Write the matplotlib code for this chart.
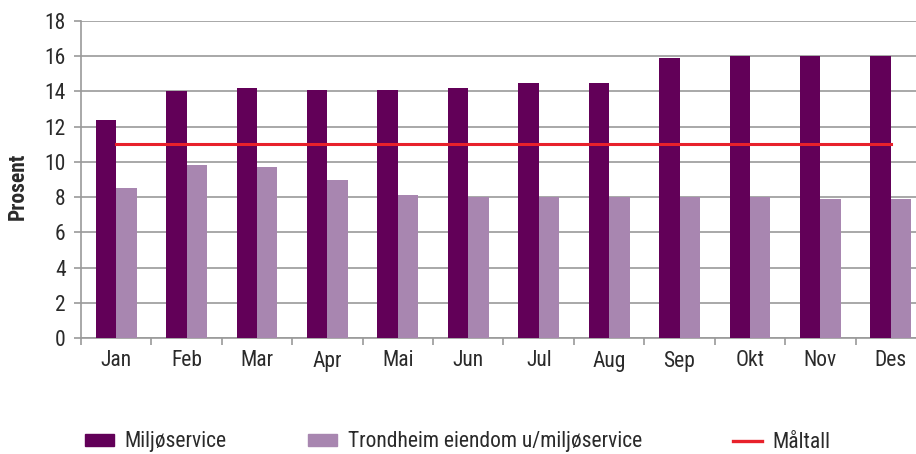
import matplotlib
matplotlib.use("Agg")
import matplotlib.pyplot as plt
import numpy as np
from matplotlib.patches import Patch
from matplotlib.lines import Line2D
from matplotlib import font_manager as fm

months = ["Jan", "Feb", "Mar", "Apr", "Mai", "Jun", "Jul", "Aug", "Sep", "Okt", "Nov", "Des"]
miljoservice = [12.4, 14.0, 14.2, 14.1, 14.1, 14.2, 14.5, 14.5, 15.9, 16.0, 16.0, 16.0]
trondheim = [8.5, 9.8, 9.7, 9.0, 8.1, 8.0, 8.0, 8.0, 8.0, 8.0, 7.9, 7.9]
maltall = [11] * 12
yticks = [0, 2, 4, 6, 8, 10, 12, 14, 16, 18]

c_dark = "#620058"
c_light = "#A886B0"
c_red = "#E8212B"
grid_c = "#9A9A9A"
txt_c = "#2a2a2a"


def find_font(bold=False):
    pref = ["Liberation Sans Narrow", "Roboto Condensed", "Open Sans Condensed",
            "Noto Sans", "DejaVu Sans", "Roboto", "Open Sans"]
    found = []
    for f in fm.fontManager.ttflist:
        fn = f.fname.lower()
        if not ("condensed" in fn or "narrow" in fn):
            continue
        if "italic" in fn or "oblique" in fn:
            continue
        isbold = "bold" in fn and "semibold" not in fn and "extrabold" not in fn
        if bold != isbold:
            continue
        if not bold and any(w in fn for w in ["light", "thin", "medium", "semi", "black", "extra"]):
            continue
        rank = pref.index(f.name) if f.name in pref else len(pref)
        found.append((rank, f.fname))
    if found:
        found.sort()
        return fm.FontProperties(fname=found[0][1])
    return fm.FontProperties(family="DejaVu Sans", weight="bold" if bold else "normal")


fp = find_font(False)
fpb = find_font(True)


def fprop(size, bold=False):
    p = (fpb if bold else fp).copy()
    p.set_size(size)
    return p


FS = 15.5
W, H = 916, 454
fig = plt.figure(figsize=(W / 100, H / 100), dpi=100)
left, right, top, bottom = 81, 926, 21, 338
ax = fig.add_axes([left / W, (H - bottom) / H, (right - left) / W, (bottom - top) / H])

x = np.arange(len(months))
bw = 0.29
ax.bar(x - bw / 2, miljoservice, width=bw, color=c_dark, zorder=3)
ax.bar(x + bw / 2, trondheim, width=bw, color=c_light, zorder=3)
ax.plot(x, maltall, color=c_red, lw=2.2, zorder=4)

ax.set_xlim(-0.5, 11.5)
ax.set_ylim(0, 18)
ax.set_yticks(yticks)
ax.set_yticklabels([str(t) for t in yticks], fontproperties=fprop(FS), color=txt_c)
ax.set_xticks(x)
ax.set_xticklabels(months, fontproperties=fprop(FS), color=txt_c)
ax.set_xticks(np.arange(-0.5, 12, 1), minor=True)
ax.tick_params(axis='x', which='major', length=0, pad=9)
ax.tick_params(axis='x', which='minor', length=5, color=grid_c, width=1.2)
ax.tick_params(axis='y', length=5, color=grid_c, width=1.2, pad=6)
ax.yaxis.grid(True, color=grid_c, lw=1.2, zorder=0)
ax.set_axisbelow(True)
for s in ["top", "right"]:
    ax.spines[s].set_visible(False)
for s in ["left", "bottom"]:
    ax.spines[s].set_color(grid_c)
    ax.spines[s].set_linewidth(1.2)

fig.text(18 / W, (H - 186) / H, "Prosent", rotation=90, fontproperties=fprop(15.5, True),
         ha="center", va="center", color=txt_c)

legend_items = [
    (Patch(color=c_dark), "Miljøservice", 85),
    (Patch(color=c_light), "Trondheim eiendom u/miljøservice", 308),
    (Line2D([0], [0], color=c_red, lw=2.4), "Måltall", 733),
]
for h, lab, px in legend_items:
    fig.legend([h], [lab], loc="center left", bbox_to_anchor=(px / W, (H - 442) / H),
               frameon=False, prop=fprop(FS), handlelength=1.35, handleheight=0.5,
               handletextpad=0.5, borderaxespad=0, borderpad=0, labelcolor=txt_c)

fig.savefig("out.png", dpi=100)
